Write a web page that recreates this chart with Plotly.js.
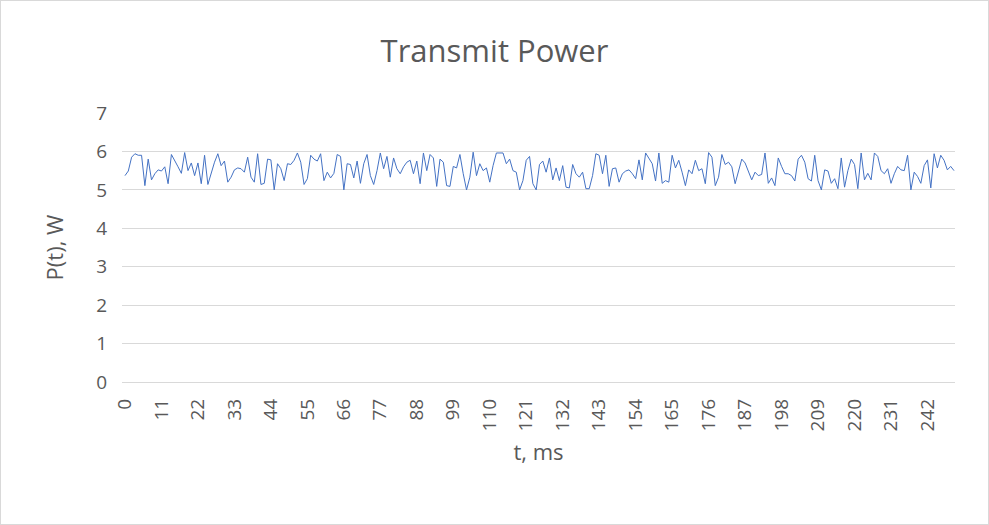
<!DOCTYPE html>
<html><head><meta charset="utf-8">
<script src="https://cdn.plot.ly/plotly-3.0.1.min.js"></script>
<style>html,body{margin:0;padding:0;background:#fff}#c{width:989px;height:525px;box-sizing:border-box;border:1px solid #d9d9d9}</style>
</head><body><div id="c"></div>
<script>
const power = [
5.37,5.49,5.85,5.94,5.9,5.9,5.11,5.8,5.26,5.42,5.52,5.49,5.6,5.16,5.92,5.77,5.6,5.43,5.97,5.5,
5.7,5.37,5.7,5.16,5.9,5.14,5.46,5.72,5.94,5.63,5.75,5.2,5.33,5.52,5.57,5.55,5.46,5.85,5.33,5.2,
5.94,5.14,5.17,5.8,5.78,5.0,5.68,5.55,5.24,5.68,5.66,5.77,5.96,5.72,5.14,5.29,5.9,5.8,5.75,5.94,
5.24,5.46,5.31,5.43,5.92,5.87,5.0,5.68,5.66,5.31,5.75,5.17,5.68,5.92,5.37,5.14,5.5,5.96,5.55,5.87,
5.33,5.83,5.55,5.42,5.6,5.72,5.77,5.42,5.75,5.16,5.96,5.5,5.92,5.83,5.09,5.8,5.72,5.11,5.09,5.61,
5.57,5.92,5.42,5.0,5.33,5.98,5.37,5.68,5.5,5.57,5.2,5.63,5.96,5.96,5.96,5.68,5.8,5.5,5.46,5.0,
5.24,5.77,5.87,5.16,5.0,5.66,5.75,5.46,5.83,5.26,5.57,5.24,5.63,5.07,5.05,5.66,5.42,5.33,5.46,5.03,
5.03,5.37,5.94,5.9,5.42,5.9,5.09,5.55,5.57,5.2,5.42,5.49,5.52,5.42,5.29,5.78,5.26,5.96,5.8,5.68,
5.23,5.96,5.17,5.24,5.2,5.9,5.57,5.77,5.46,5.11,5.52,5.42,5.77,5.5,5.55,5.16,5.97,5.85,5.11,5.33,
5.92,5.66,5.72,5.6,5.16,5.5,5.8,5.7,5.46,5.26,5.46,5.37,5.4,5.96,5.17,5.31,5.11,5.83,5.61,5.42,
5.42,5.37,5.23,5.8,5.9,5.72,5.29,5.23,5.9,5.24,5.0,5.52,5.49,5.17,5.29,5.03,5.83,5.07,5.5,5.8,
5.66,5.03,5.96,5.26,5.43,5.26,5.96,5.87,5.5,5.42,5.55,5.17,5.42,5.61,5.52,5.5,5.9,5.0,5.46,5.35,
5.17,5.63,5.78,5.05,5.94,5.57,5.9,5.77,5.52,5.61,5.5];
const times = power.map((_, i) => i);
const tickVals = [0,11,22,33,44,55,66,77,88,99,110,121,132,143,154,165,176,187,198,209,220,231,242];
const yTicks = [0,1,2,3,4,5,6,7];
const F = "Open Sans, Liberation Sans, sans-serif";
Plotly.newPlot('c', [{
  x: times, y: power, type: 'scatter', mode: 'lines',
  line: {color: '#4472C4', width: 1}, hoverinfo: 'skip'
}], {
  width: 987, height: 523,
  margin: {l: 121, r: 33, t: 112, b: 142},
  paper_bgcolor: '#fff', plot_bgcolor: '#fff',
  showlegend: false,
  title: {text: 'Transmit Power', x: 0.5, xanchor: 'center', y: 0.905, yanchor: 'middle',
          font: {family: F, size: 31, color: '#595959'}},
  xaxis: {range: [-0.9, 250.3], tickmode: 'array', tickvals: tickVals, ticktext: tickVals.map(String),
          tickangle: -90, showgrid: false, zeroline: false, showline: false, ticks: '',
          ticklabelstandoff: 12,
          tickfont: {family: F, size: 19, color: '#595959'},
          title: {text: 't, ms', font: {family: F, size: 22, color: '#595959'}, standoff: 14}},
  yaxis: {range: [0, 7], tickmode: 'array', tickvals: yTicks, showgrid: true, gridcolor: '#d9d9d9',
          zeroline: true, zerolinecolor: '#d9d9d9', showline: false, ticks: '',
          ticklabelstandoff: 14,
          tickfont: {family: F, size: 19, color: '#595959'},
          title: {text: 'P(t), W', font: {family: F, size: 22, color: '#595959'}, standoff: 26}}
}, {displayModeBar: false, staticPlot: true});
</script></body></html>
